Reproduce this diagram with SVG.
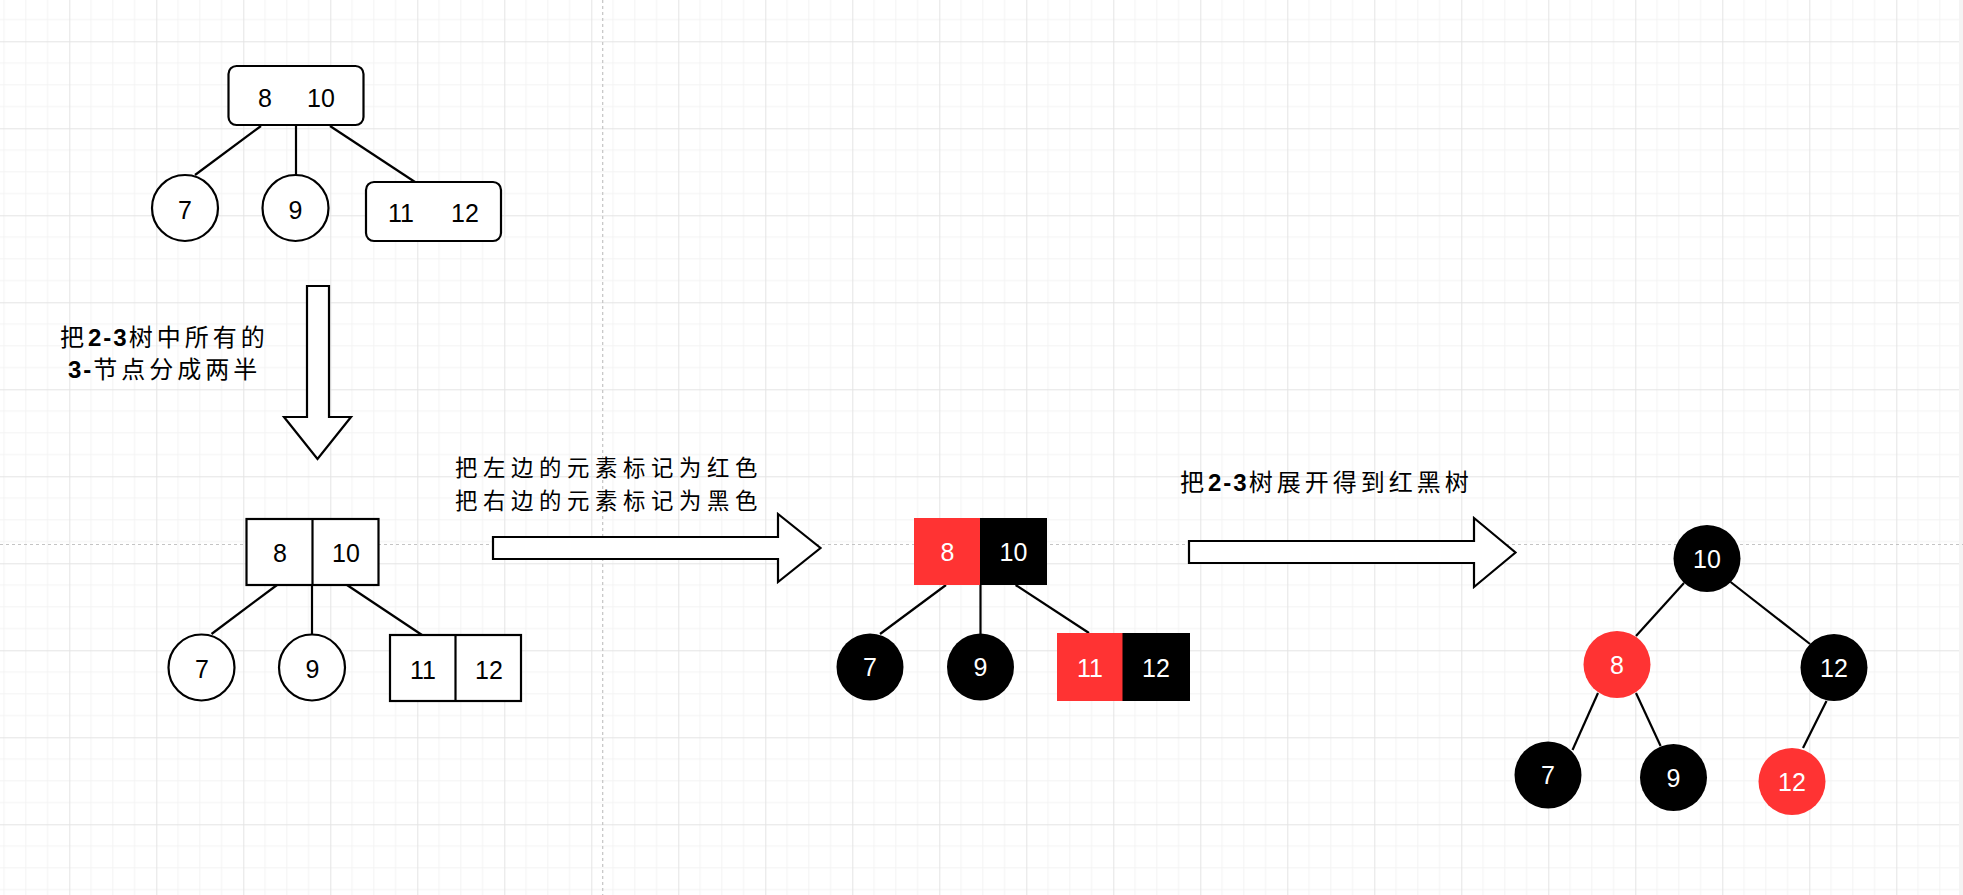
<svg xmlns="http://www.w3.org/2000/svg" width="1963" height="895" viewBox="0 0 1963 895">
<defs>
<pattern id="grid" x="69.3" y="41.3" width="87" height="87" patternUnits="userSpaceOnUse">
<path d="M21.75 0V87M43.5 0V87M65.25 0V87M0 21.75H87M0 43.5H87M0 65.25H87" stroke="#f3f3f3" stroke-width="1" fill="none"/>
<path d="M0.5 0V87M0 0.5H87" stroke="#e4e4e4" stroke-width="1" fill="none"/>
</pattern>
</defs>
<style>
.ol{fill:#fff;stroke:#000;stroke-width:2.2}
.blk{fill:#000}
.red{fill:#ff3333}
.num{font-family:"Liberation Sans",Arial,sans-serif;font-size:25px;text-anchor:middle;fill:#000}
.w{fill:#fff}
.cn{font-family:"Noto Sans CJK SC",sans-serif;font-size:24px;letter-spacing:4px;fill:#000}
.cn2{font-family:"Noto Sans CJK SC",sans-serif;font-size:22.4px;letter-spacing:5.6px;fill:#000}
.b{font-family:"Liberation Sans",Arial,sans-serif;font-weight:bold;letter-spacing:2px}
.edge{stroke:#000;stroke-width:2.2;fill:none}
.arrow{fill:#fff;stroke:#000;stroke-width:2.2;stroke-linejoin:miter}
.pb{stroke:#c4c4c4;stroke-width:1.2;stroke-dasharray:3 3;fill:none}
</style>
<rect width="1963" height="895" fill="#fff"/>
<rect width="1959" height="895" fill="url(#grid)"/>
<rect x="1959" y="0" width="4" height="895" fill="#f4f4f4"/>
<path class="pb" d="M602.7 0V895M0 544.5H1963"/>

<g id="connectors">
<line class="edge" x1="261" y1="126" x2="195" y2="175"/>
<line class="edge" x1="296" y1="126" x2="296" y2="175"/>
<line class="edge" x1="330" y1="126" x2="415" y2="182"/>
<line class="edge" x1="277" y1="585" x2="211.5" y2="634"/>
<line class="edge" x1="312" y1="585" x2="312" y2="634"/>
<line class="edge" x1="347" y1="585" x2="422" y2="635"/>
<line class="edge" x1="946" y1="585" x2="880" y2="634"/>
<line class="edge" x1="980.5" y1="585" x2="980.5" y2="634"/>
<line class="edge" x1="1015.6" y1="585" x2="1089" y2="633"/>
<line class="edge" x1="1684" y1="583" x2="1636" y2="636"/>
<line class="edge" x1="1730.6" y1="582" x2="1810" y2="644"/>
<line class="edge" x1="1598" y1="693" x2="1572.5" y2="750"/>
<line class="edge" x1="1636" y1="693" x2="1660.6" y2="746"/>
<line class="edge" x1="1826.5" y1="701" x2="1803" y2="748"/>
</g>

<g id="arrow-down">
<path class="arrow" d="M307 286H329V417H351L317.5 459L284 417H307Z"/>
</g>
<g id="arrow-mid">
<path class="arrow" d="M493 537H778V514L820.5 548L778 582V559H493Z"/>
</g>
<g id="arrow-right">
<path class="arrow" d="M1189 541H1474V518L1515.5 552.5L1474 587V563H1189Z"/>
</g>

<g id="label-split">
<text class="cn" x="60" y="346">把<tspan class="b">2-3</tspan>树中所有的<tspan x="68" y="378" class="b">3-</tspan>节点分成两半</text>
</g>
<g id="label-color">
<text class="cn2" x="455" y="476">把左边的元素标记为红色</text>
<text class="cn2" x="455" y="508.8">把右边的元素标记为黑色</text>
</g>
<g id="label-expand">
<text class="cn" x="1180" y="491">把<tspan class="b">2-3</tspan>树展开得到红黑树</text>
</g>

<g id="t1-root">
<rect class="ol" x="228.5" y="66" width="135" height="59" rx="8"/>
<text class="num" x="265" y="107">8</text>
<text class="num" x="321" y="107">10</text>
</g>
<g id="t1-7">
<circle class="ol" cx="185" cy="208" r="33"/>
<text class="num" x="185" y="219">7</text>
</g>
<g id="t1-9">
<circle class="ol" cx="295.5" cy="208" r="33"/>
<text class="num" x="295.5" y="219">9</text>
</g>
<g id="t1-1112">
<rect class="ol" x="366" y="182" width="135" height="59" rx="8"/>
<text class="num" x="401" y="222">11</text>
<text class="num" x="465" y="222">12</text>
</g>

<g id="t2-root">
<rect class="ol" x="246.5" y="519" width="132" height="66"/>
<line class="edge" x1="312.5" y1="519" x2="312.5" y2="585"/>
<text class="num" x="280" y="562">8</text>
<text class="num" x="346" y="562">10</text>
</g>
<g id="t2-7">
<circle class="ol" cx="201.5" cy="667.5" r="33"/>
<text class="num" x="202" y="678">7</text>
</g>
<g id="t2-9">
<circle class="ol" cx="312" cy="667.5" r="33"/>
<text class="num" x="312.5" y="678">9</text>
</g>
<g id="t2-1112">
<rect class="ol" x="390" y="635" width="131" height="66"/>
<line class="edge" x1="455.5" y1="635" x2="455.5" y2="701"/>
<text class="num" x="423" y="679">11</text>
<text class="num" x="489" y="679">12</text>
</g>

<g id="t3-root">
<rect class="red" x="914" y="518" width="67" height="67"/>
<rect class="blk" x="980" y="518" width="67" height="67"/>
<text class="num w" x="947.5" y="561">8</text>
<text class="num w" x="1013.5" y="561">10</text>
</g>
<g id="t3-7">
<circle class="blk" cx="870" cy="667" r="33.5"/>
<text class="num w" x="870" y="676">7</text>
</g>
<g id="t3-9">
<circle class="blk" cx="980.5" cy="667" r="33.5"/>
<text class="num w" x="980.5" y="676">9</text>
</g>
<g id="t3-1112">
<rect class="red" x="1057" y="633" width="66" height="68"/>
<rect class="blk" x="1122.5" y="633" width="67.5" height="68"/>
<text class="num w" x="1090" y="677">11</text>
<text class="num w" x="1156" y="677">12</text>
</g>

<g id="rb-10">
<circle class="blk" cx="1707" cy="558.5" r="33.5"/>
<text class="num w" x="1707" y="568">10</text>
</g>
<g id="rb-8">
<circle class="red" cx="1617" cy="664.5" r="33.5"/>
<text class="num w" x="1617" y="674">8</text>
</g>
<g id="rb-12">
<circle class="blk" cx="1834" cy="667.5" r="33.5"/>
<text class="num w" x="1834" y="677">12</text>
</g>
<g id="rb-7">
<circle class="blk" cx="1548" cy="775" r="33.5"/>
<text class="num w" x="1548" y="784">7</text>
</g>
<g id="rb-9">
<circle class="blk" cx="1673.5" cy="777.5" r="33.5"/>
<text class="num w" x="1673.5" y="787">9</text>
</g>
<g id="rb-12r">
<circle class="red" cx="1792" cy="781.5" r="33.5"/>
<text class="num w" x="1792" y="791">12</text>
</g>
</svg>
